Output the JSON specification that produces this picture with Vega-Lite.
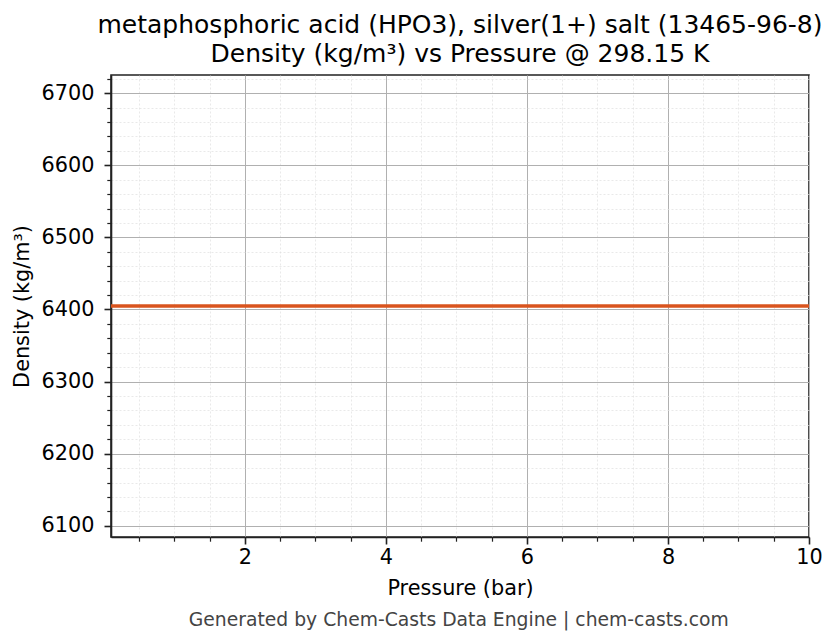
{
  "$schema": "https://vega.github.io/schema/vega-lite/v6.json",
  "padding": {"left": 10, "top": 12, "right": 5, "bottom": 5},
  "background": "white",
  "config": {
    "font": "DejaVu Sans",
    "view": {"stroke": "#222222", "strokeWidth": 1.6},
    "axis": {"labelFont": "DejaVu Sans", "titleFont": "DejaVu Sans", "labelColor": "#000000", "titleColor": "#000000", "titleFontWeight": "normal"}
  },
  "title": {"text": "Generated by Chem-Casts Data Engine | chem-casts.com", "orient": "bottom", "anchor": "middle", "fontSize": 18.75, "fontWeight": "normal", "color": "#444444", "offset": 12, "dx": 42},
  "vconcat": [
    {
      "width": 698,
      "height": 462,
      "title": {"text": ["metaphosphoric acid (HPO3), silver(1+) salt (13465-96-8)", "Density (kg/m³) vs Pressure @ 298.15 K"], "fontSize": 25, "fontWeight": "normal", "color": "#000000", "anchor": "middle", "lineHeight": 29, "offset": 8},
      "data": {"values": [
        {"pressure": 0.1, "density": 6404.85},
        {"pressure": 2, "density": 6404.85},
        {"pressure": 4, "density": 6404.85},
        {"pressure": 6, "density": 6404.85},
        {"pressure": 8, "density": 6404.85},
        {"pressure": 10, "density": 6404.85}
      ]},
      "layer": [
        {
          "mark": {"type": "line", "strokeOpacity": 0},
          "encoding": {
            "x": {"field": "pressure", "type": "quantitative", "scale": {"domain": [0.1, 10], "nice": false, "zero": false},
              "axis": {"orient": "bottom", "title": null, "labels": false, "domain": false, "values": [0.5, 1, 1.5, 2.5, 3, 3.5, 4.5, 5, 5.5, 6.5, 7, 7.5, 8.5, 9, 9.5], "grid": true, "gridColor": "#e0e0e0", "gridDash": [2, 2], "gridWidth": 0.7, "tickSize": 4.2, "tickColor": "#222222", "tickWidth": 1.2}},
            "y": {"field": "density", "type": "quantitative", "scale": {"domain": [6084.6, 6725.1], "nice": false, "zero": false},
              "axis": {"orient": "left", "title": null, "labels": false, "domain": false, "values": [6120, 6140, 6160, 6180, 6220, 6240, 6260, 6280, 6320, 6340, 6360, 6380, 6420, 6440, 6460, 6480, 6520, 6540, 6560, 6580, 6620, 6640, 6660, 6680, 6720], "grid": true, "gridColor": "#e0e0e0", "gridDash": [2, 2], "gridWidth": 0.7, "tickSize": 4.2, "tickColor": "#222222", "tickWidth": 1.2}}
          }
        },
        {
          "mark": {"type": "line", "color": "#d9541e", "strokeWidth": 3.4},
          "encoding": {
            "x": {"field": "pressure", "type": "quantitative",
              "axis": {"orient": "bottom", "title": "Pressure (bar)", "titleFontSize": 20.8, "titlePadding": 12, "labelFontSize": 20.8, "labelPadding": 3, "labelFlush": false, "labelOverlap": false, "values": [2, 4, 6, 8, 10], "format": "d", "grid": true, "gridColor": "#b0b0b0", "gridWidth": 1, "tickSize": 7, "tickColor": "#222222", "tickWidth": 1.6, "domain": true, "domainColor": "#222222", "domainWidth": 1.6}},
            "y": {"field": "density", "type": "quantitative",
              "axis": {"orient": "left", "title": "Density (kg/m³)", "titleFontSize": 20.8, "titlePadding": 9, "labelFontSize": 20.8, "labelPadding": 10, "labelFlush": false, "labelOverlap": false, "values": [6100, 6200, 6300, 6400, 6500, 6600, 6700], "format": "d", "grid": true, "gridColor": "#b0b0b0", "gridWidth": 1, "tickSize": 7, "tickColor": "#222222", "tickWidth": 1.6, "domain": true, "domainColor": "#222222", "domainWidth": 1.6}}
          }
        }
      ],
      "resolve": {"axis": {"x": "independent", "y": "independent"}}
    }
  ]
}
